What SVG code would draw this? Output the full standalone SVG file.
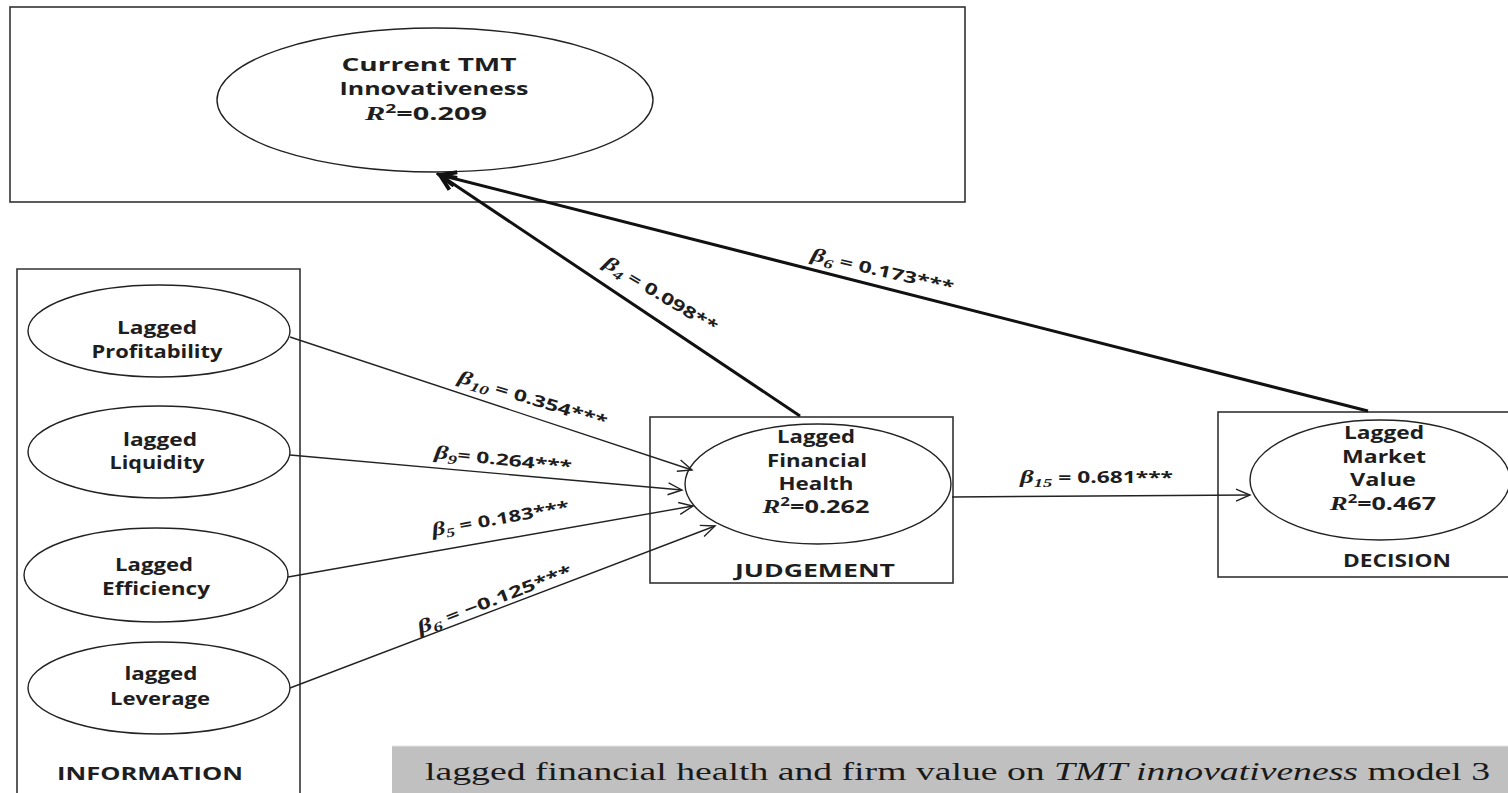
<svg xmlns="http://www.w3.org/2000/svg" width="1508" height="793" viewBox="0 0 1508 793">
  <style>
    .frame { fill: none; stroke: #333; stroke-width: 1.6; }
    .node { fill: #fff; stroke: #222; stroke-width: 1.4; }
    .t { font-family: "Open Sans", "Liberation Sans", sans-serif; font-weight: 700; font-size: 18px; fill: #1e1e1e; text-anchor: middle; }
    .lbl { font-family: "Open Sans", "Liberation Sans", sans-serif; font-weight: 700; font-size: 16px; fill: #1e1e1e; }
    .greek { font-family: "Liberation Serif", "DejaVu Serif", serif; font-style: italic; font-weight: 700; font-size: 19px; }
    .sub { font-family: "Liberation Serif", "DejaVu Serif", serif; font-style: italic; font-size: 13px; }
    .sup { font-size: 12px; }
    .thin { fill: none; stroke: #222; stroke-width: 1.4; }
    .thick { fill: none; stroke: #111; stroke-width: 3; }
    .caption { font-family: "Liberation Serif", "Times New Roman", serif; font-size: 25px; fill: #1a1a1a; }
  </style>
  <defs>
    <marker id="open" markerUnits="userSpaceOnUse" markerWidth="18" markerHeight="16" refX="15" refY="7" orient="auto">
      <path d="M1,1 L15,7 L1,13" fill="none" stroke="#222" stroke-width="1.4"/>
    </marker>
    <marker id="heavy" markerUnits="userSpaceOnUse" markerWidth="22" markerHeight="20" refX="18" refY="9" orient="auto">
      <path d="M2,2 L18,9 L2,16" fill="none" stroke="#111" stroke-width="4"/>
    </marker>
  </defs>

  <rect width="1508" height="793" fill="#fff"/>

  <!-- outcome block -->
  <g id="tmt">
    <rect class="frame" x="10" y="7" width="955" height="195"/>
    <ellipse class="node" cx="435" cy="100" rx="218" ry="72"/>
    <text class="t" x="429" y="71" textLength="175" lengthAdjust="spacingAndGlyphs">Current TMT</text>
    <text class="t" x="434" y="95" textLength="189" lengthAdjust="spacingAndGlyphs">Innovativeness</text>
    <text class="t" x="426" y="120" textLength="122" lengthAdjust="spacingAndGlyphs"><tspan class="greek">R</tspan><tspan class="sup" dy="-7">2</tspan><tspan dy="7">=0.209</tspan></text>
  </g>

  <!-- information block -->
  <g id="information">
    <path class="frame" d="M17,800 V269 H300 V800"/>
    <text class="t" x="150" y="780" textLength="186" lengthAdjust="spacingAndGlyphs">INFORMATION</text>
  </g>
  <g id="profitability">
    <ellipse class="node" cx="159" cy="331" rx="131" ry="46"/>
    <text class="t" x="157" y="334" textLength="80" lengthAdjust="spacingAndGlyphs">Lagged</text>
    <text class="t" x="157" y="358" textLength="131" lengthAdjust="spacingAndGlyphs">Profitability</text>
  </g>
  <g id="liquidity">
    <ellipse class="node" cx="159" cy="452" rx="131" ry="46"/>
    <text class="t" x="160" y="446" textLength="74" lengthAdjust="spacingAndGlyphs">lagged</text>
    <text class="t" x="157" y="469" textLength="95" lengthAdjust="spacingAndGlyphs">Liquidity</text>
  </g>
  <g id="efficiency">
    <ellipse class="node" cx="156" cy="575" rx="132" ry="47"/>
    <text class="t" x="154" y="571" textLength="78" lengthAdjust="spacingAndGlyphs">Lagged</text>
    <text class="t" x="156" y="595" textLength="108" lengthAdjust="spacingAndGlyphs">Efficiency</text>
  </g>
  <g id="leverage">
    <ellipse class="node" cx="159" cy="688" rx="131" ry="46"/>
    <text class="t" x="161" y="680" textLength="73" lengthAdjust="spacingAndGlyphs">lagged</text>
    <text class="t" x="160" y="705" textLength="100" lengthAdjust="spacingAndGlyphs">Leverage</text>
  </g>

  <!-- judgement block -->
  <g id="judgement">
    <rect class="frame" x="650" y="417" width="303" height="166"/>
    <ellipse class="node" cx="818" cy="484" rx="133" ry="60"/>
    <text class="t" x="816" y="443" textLength="78" lengthAdjust="spacingAndGlyphs">Lagged</text>
    <text class="t" x="817" y="467" textLength="100" lengthAdjust="spacingAndGlyphs">Financial</text>
    <text class="t" x="816" y="490" textLength="75" lengthAdjust="spacingAndGlyphs">Health</text>
    <text class="t" x="816" y="513" textLength="107" lengthAdjust="spacingAndGlyphs"><tspan class="greek">R</tspan><tspan class="sup" dy="-7">2</tspan><tspan dy="7">=0.262</tspan></text>
    <text class="t" x="815" y="577" textLength="160" lengthAdjust="spacingAndGlyphs">JUDGEMENT</text>
  </g>

  <!-- decision block -->
  <g id="decision">
    <rect class="frame" x="1218" y="412" width="300" height="165"/>
    <ellipse class="node" cx="1380" cy="480" rx="130" ry="60"/>
    <text class="t" x="1384" y="439" textLength="80" lengthAdjust="spacingAndGlyphs">Lagged</text>
    <text class="t" x="1384" y="463" textLength="84" lengthAdjust="spacingAndGlyphs">Market</text>
    <text class="t" x="1383" y="486" textLength="66" lengthAdjust="spacingAndGlyphs">Value</text>
    <text class="t" x="1383" y="510" textLength="106" lengthAdjust="spacingAndGlyphs"><tspan class="greek">R</tspan><tspan class="sup" dy="-7">2</tspan><tspan dy="7">=0.467</tspan></text>
    <text class="t" x="1397" y="567" textLength="108" lengthAdjust="spacingAndGlyphs">DECISION</text>
  </g>

  <!-- paths -->
  <g id="connectors">
    <line class="thick" x1="800" y1="416" x2="440" y2="175" marker-end="url(#heavy)"/>
    <line class="thick" x1="1368" y1="411" x2="440" y2="175" marker-end="url(#heavy)"/>
    <line class="thin" x1="290" y1="337" x2="692" y2="470" marker-end="url(#open)"/>
    <line class="thin" x1="290" y1="455" x2="682" y2="490" marker-end="url(#open)"/>
    <line class="thin" x1="288" y1="577" x2="693" y2="506" marker-end="url(#open)"/>
    <line class="thin" x1="290" y1="688" x2="715" y2="526" marker-end="url(#open)"/>
    <line class="thin" x1="952" y1="497" x2="1250" y2="495" marker-end="url(#open)"/>
  </g>

  <!-- path coefficients -->
  <g id="labels">
    <text class="lbl" x="602" y="266" transform="rotate(31 602 266)" textLength="130" lengthAdjust="spacingAndGlyphs"><tspan class="greek">β</tspan><tspan class="sub" dy="4">4</tspan><tspan dy="-4"> = 0.098**</tspan></text>
    <text class="lbl" x="810" y="260" transform="rotate(13 810 260)" textLength="146" lengthAdjust="spacingAndGlyphs"><tspan class="greek">β</tspan><tspan class="sub" dy="4">6</tspan><tspan dy="-4"> = 0.173***</tspan></text>
    <text class="lbl" x="457" y="382" transform="rotate(17 457 382)" textLength="155" lengthAdjust="spacingAndGlyphs"><tspan class="greek">β</tspan><tspan class="sub" dy="4">10</tspan><tspan dy="-4">  = 0.354***</tspan></text>
    <text class="lbl" x="434" y="458" transform="rotate(6 434 458)" textLength="138" lengthAdjust="spacingAndGlyphs"><tspan class="greek">β</tspan><tspan class="sub" dy="4">9</tspan><tspan dy="-4">= 0.264***</tspan></text>
    <text class="lbl" x="433" y="536" transform="rotate(-10 433 536)" textLength="139" lengthAdjust="spacingAndGlyphs"><tspan class="greek">β</tspan><tspan class="sub" dy="4">5</tspan><tspan dy="-4"> = 0.183***</tspan></text>
    <text class="lbl" x="420" y="634" transform="rotate(-21 420 634)" textLength="164" lengthAdjust="spacingAndGlyphs"><tspan class="greek">β</tspan><tspan class="sub" dy="4">6</tspan><tspan dy="-4"> = −0.125***</tspan></text>
    <text class="lbl" x="1020" y="483" textLength="153" lengthAdjust="spacingAndGlyphs"><tspan class="greek">β</tspan><tspan class="sub" dy="4">15</tspan><tspan dy="-4"> = 0.681***</tspan></text>
  </g>

  <!-- caption -->
  <g id="caption">
    <rect x="392" y="746" width="1120" height="50" fill="#c0c0c0"/>
    <line x1="392" y1="746" x2="1508" y2="746" stroke="#e4e4e4" stroke-width="1"/>
    <text class="caption" x="425" y="780" textLength="1065" lengthAdjust="spacingAndGlyphs">lagged financial health and firm value on <tspan font-style="italic">TMT innovativeness</tspan> model 3</text>
  </g>
</svg>
